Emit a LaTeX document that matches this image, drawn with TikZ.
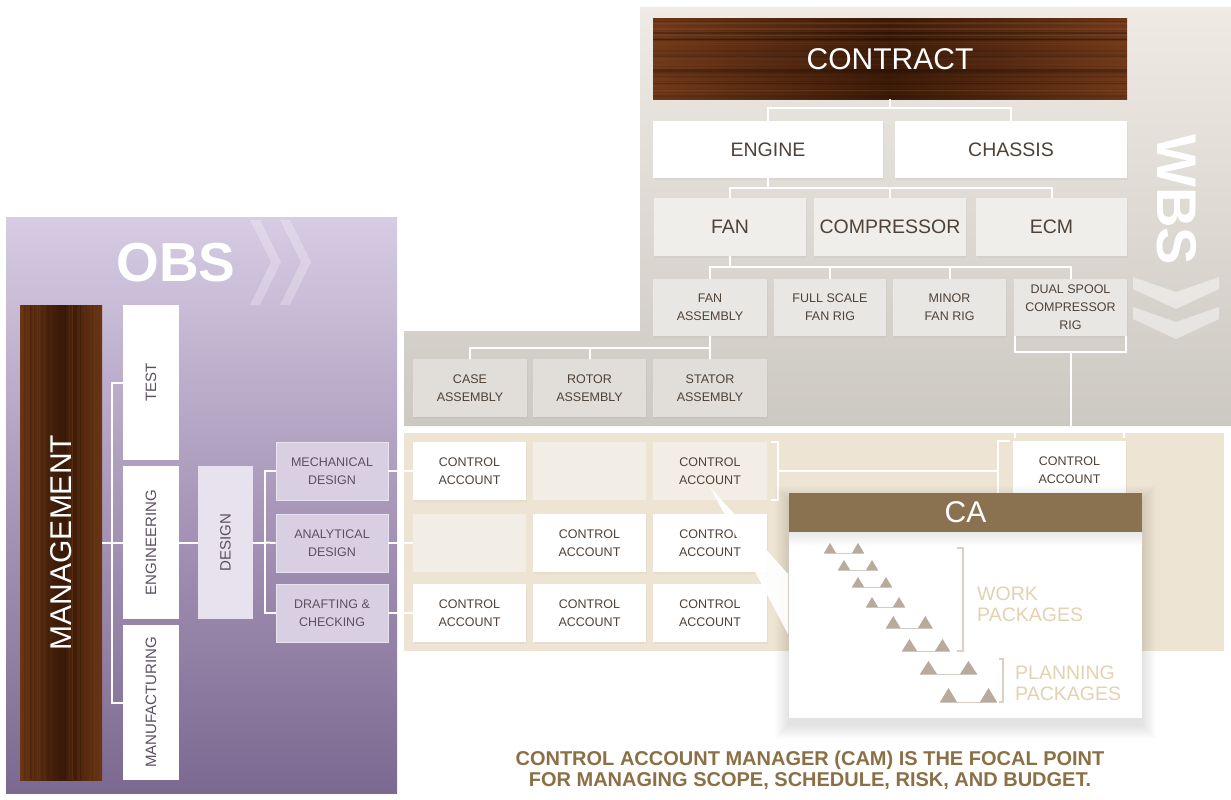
\documentclass[tikz,border=0pt]{standalone}
\usepackage{fontspec}
\usepackage{graphicx}
\setmainfont{Liberation Sans}
\usetikzlibrary{calc,shadows}
\definecolor{txt}{HTML}{4E4238}
\definecolor{obstxt}{HTML}{5C5060}
\definecolor{obstop}{HTML}{D6CCE3}
\definecolor{obsmid}{HTML}{A897B9}
\definecolor{obsbot}{HTML}{7C6991}
\definecolor{wbstop}{HTML}{EFEBE4}
\definecolor{wbsbot}{HTML}{CCC8C2}
\definecolor{caarea}{HTML}{EDE4D4}
\definecolor{cellpale}{HTML}{F3EEE5}
\definecolor{fanrow}{HTML}{F0EEEB}
\definecolor{subrow}{HTML}{E9E7E3}
\definecolor{asmrow}{HTML}{E1DDD8}
\definecolor{orgbox}{HTML}{D8D0E2}
\definecolor{designbox}{HTML}{E7E2ED}
\definecolor{cahead}{HTML}{8A7250}
\definecolor{tri}{HTML}{B8AB9C}
\definecolor{brk}{HTML}{DAD1C6}
\definecolor{baseln}{HTML}{D3CBC2}
\definecolor{pkg}{HTML}{E3D2B2}
\definecolor{camtxt}{HTML}{8B7045}
\definecolor{woodmid}{HTML}{70391A}
\definecolor{wooddark}{HTML}{3C1B09}
\definecolor{woodlight}{HTML}{9A5828}
\definecolor{woodmidv}{HTML}{6A3615}
\definecolor{wooddarkv}{HTML}{3A1A08}
\newcommand\ganttrow[5]{%
  \draw[baseln, line width=1pt] (#1,#3) -- (#2+#4,#3);
  \fill[tri] (#1,#3) -- (#1+#4/2,#3-#5) -- (#1+#4,#3) -- cycle;
  \fill[tri] (#2,#3) -- (#2+#4/2,#3-#5) -- (#2+#4,#3) -- cycle;
}
\begin{document}
\begin{tikzpicture}[x=1pt,y=-1pt,
  conn/.style={draw=white, line width=2pt},
  lbl/.style={rectangle, inner sep=0pt, align=center, text=txt},
  sz/.style 2 args={minimum width=#1pt, minimum height=#2pt},
  small/.style={font=\fontsize{12.5}{18}\selectfont},
  mid/.style={font=\fontsize{19.5}{22}\selectfont},
  obsl/.style={font=\fontsize{15}{18}\selectfont, text=obstxt},
  shad/.style={drop shadow={opacity=0.07, shadow xshift=1pt, shadow yshift=-1.5pt}},
  chev/.style={fill=white, opacity=0.45},
  woodh/.style={path picture={
    \shade[left color=woodmid, right color=woodmid, middle color=wooddark]
      (path picture bounding box.south west) rectangle (path picture bounding box.north east);
    \pgfmathsetseed{7}
    \foreach \i in {1,...,30}{
      \pgfmathsetmacro\t{rnd}
      \pgfmathsetmacro\w{0.4+1.8*rnd}
      \pgfmathsetmacro\o{0.04+0.14*rnd}
      \draw[line width=\w pt, draw=black, opacity=\o]
        ($(path picture bounding box.north west)!\t!(path picture bounding box.south west)$) --
        ($(path picture bounding box.north east)!\t!(path picture bounding box.south east)$);
    }
    \foreach \i in {1,...,20}{
      \pgfmathsetmacro\t{rnd}
      \pgfmathsetmacro\w{0.4+1.4*rnd}
      \pgfmathsetmacro\o{0.05+0.15*rnd}
      \draw[line width=\w pt, draw=woodlight, opacity=\o]
        ($(path picture bounding box.north west)!\t!(path picture bounding box.south west)$) --
        ($(path picture bounding box.north east)!\t!(path picture bounding box.south east)$);
    }
  }},
  woodv/.style={path picture={
    \shade[left color=woodmidv, right color=woodmidv, middle color=wooddarkv]
      (path picture bounding box.south west) rectangle (path picture bounding box.north east);
    \pgfmathsetseed{11}
    \foreach \i in {1,...,18}{
      \pgfmathsetmacro\t{rnd}
      \pgfmathsetmacro\w{0.4+1.6*rnd}
      \pgfmathsetmacro\o{0.04+0.14*rnd}
      \draw[line width=\w pt, draw=black, opacity=\o]
        ($(path picture bounding box.north west)!\t!(path picture bounding box.north east)$) --
        ($(path picture bounding box.south west)!\t!(path picture bounding box.south east)$);
    }
    \foreach \i in {1,...,14}{
      \pgfmathsetmacro\t{rnd}
      \pgfmathsetmacro\w{0.4+1.2*rnd}
      \pgfmathsetmacro\o{0.05+0.15*rnd}
      \draw[line width=\w pt, draw=woodlight, opacity=\o]
        ($(path picture bounding box.north west)!\t!(path picture bounding box.north east)$) --
        ($(path picture bounding box.south west)!\t!(path picture bounding box.south east)$);
    }
  }}
]
\useasboundingbox (0,0) rectangle (1231,800);
\fill[white] (0,0) rectangle (1231,800);

% ---------- panels ----------
\shade[top color=obstop, bottom color=obsbot, middle color=obsmid] (6,217) rectangle (397,793);
\shade[top color=wbstop, bottom color=wbsbot]
  (640,7) -- (1231,7) -- (1231,426) -- (404,426) -- (404,331) -- (640,331) -- cycle;
\fill[caarea] (404,433) rectangle (1224,651);

% ---------- titles ----------
\node[font=\fontsize{55}{60}\selectfont\bfseries, text=white, inner sep=0pt] (obs) at (176,263) {OBS};
\fill[white, opacity=0.25] (250,220) -- (260,220) -- (281,262) -- (260,305) -- (250,305) -- (271,262) -- cycle;
\fill[white, opacity=0.25] (280,220) -- (290,220) -- (311,262) -- (290,305) -- (280,305) -- (301,262) -- cycle;

\node[font=\fontsize{56}{60}\selectfont\bfseries, text=white, rotate=-90, inner sep=0pt] (wbs) at (1177,200) {WBS};
\fill[chev] (1133,277) -- (1176,292) -- (1219,277) -- (1219,289) -- (1176,309) -- (1133,289) -- cycle;
\fill[chev] (1133,307) -- (1176,322) -- (1219,307) -- (1219,319) -- (1176,339) -- (1133,319) -- cycle;

% ---------- WBS nodes ----------
\node[lbl, woodh, sz={474}{80}, font=\fontsize{30}{36}\selectfont, text=white] (contract) at (890,59) {CONTRACT};
\node[lbl, shad, fill=white, sz={230}{57}, mid] (engine) at (768,149.5) {ENGINE};
\node[lbl, shad, fill=white, sz={232}{57}, mid] (chassis) at (1011,149.5) {CHASSIS};
\node[lbl, shad, fill=fanrow, sz={152}{58}, mid] (fan) at (730,227) {FAN};
\node[lbl, shad, fill=fanrow, sz={152}{58}, mid] (compressor) at (890,227) {COMPRESSOR};
\node[lbl, shad, fill=fanrow, sz={151}{58}, mid] (ecm) at (1051.5,227) {ECM};
\node[lbl, shad, fill=subrow, sz={114}{57}, small] (fanasm) at (710,307.5) {FAN\\ASSEMBLY};
\node[lbl, shad, fill=subrow, sz={112}{57}, small] (fullscale) at (830,307.5) {FULL SCALE\\FAN RIG};
\node[lbl, shad, fill=subrow, sz={113}{57}, small] (minor) at (949.5,307.5) {MINOR\\FAN RIG};
\node[lbl, shad, fill=subrow, sz={113}{57}, small] (dual) at (1070.5,307.5) {DUAL SPOOL\\COMPRESSOR\\RIG};
\node[lbl, shad, fill=asmrow, sz={114}{58}, small] (case) at (470,388) {CASE\\ASSEMBLY};
\node[lbl, shad, fill=asmrow, sz={113}{58}, small] (rotor) at (589.5,388) {ROTOR\\ASSEMBLY};
\node[lbl, shad, fill=asmrow, sz={114}{58}, small] (stator) at (710,388) {STATOR\\ASSEMBLY};

% ---------- control account grid ----------
\node[lbl, shad, fill=white, sz={113}{58}, small] (ca11) at (469.5,471) {CONTROL\\ACCOUNT};
\node[lbl, fill=cellpale, sz={113}{58}, small] (ca12) at (589.5,471) {};
\node[lbl, fill=cellpale, sz={114}{58}, small] (ca13) at (710,471) {CONTROL\\ACCOUNT};
\node[lbl, fill=cellpale, sz={113}{58}, small] (ca21) at (469.5,543) {};
\node[lbl, shad, fill=white, sz={113}{58}, small] (ca22) at (589.5,543) {CONTROL\\ACCOUNT};
\node[lbl, shad, fill=white, sz={114}{58}, small] (ca23) at (710,543) {CONTROL\\ACCOUNT};
\node[lbl, shad, fill=white, sz={113}{58}, small] (ca31) at (469.5,613) {CONTROL\\ACCOUNT};
\node[lbl, shad, fill=white, sz={113}{58}, small] (ca32) at (589.5,613) {CONTROL\\ACCOUNT};
\node[lbl, shad, fill=white, sz={114}{58}, small] (ca33) at (710,613) {CONTROL\\ACCOUNT};
\node[lbl, shad, fill=white, sz={113}{58}, small] (ca14) at (1069.5,470) {CONTROL\\ACCOUNT};

% ---------- OBS nodes ----------
\node[lbl, woodv, sz={82}{475}, font=\fontsize{30}{36}\selectfont, text=white] (mgmt) at (61,542.5) {\rotatebox{90}{MANAGEMENT}};
\node[lbl, fill=white, sz={56}{155}, obsl] (test) at (151,382.5) {\rotatebox{90}{TEST}};
\node[lbl, fill=white, sz={56}{153}, obsl] (eng) at (151,542.5) {\rotatebox{90}{ENGINEERING}};
\node[lbl, fill=white, sz={56}{155}, obsl] (manu) at (151,702.5) {\rotatebox{90}{MANUFACTURING}};
\node[lbl, fill=designbox, sz={55}{153}, obsl] (design) at (225.5,542.5) {\rotatebox{90}{DESIGN}};
\node[lbl, fill=orgbox, draw=white!40!orgbox, line width=0.8pt, sz={112}{58}, small, text=obstxt] (mech) at (332,471) {MECHANICAL\\DESIGN};
\node[lbl, fill=orgbox, draw=white!40!orgbox, line width=0.8pt, sz={112}{58}, small, text=obstxt] (anal) at (332,543) {ANALYTICAL\\DESIGN};
\node[lbl, fill=orgbox, draw=white!40!orgbox, line width=0.8pt, sz={112}{58}, small, text=obstxt] (draft) at (332,613) {DRAFTING \&\\CHECKING};

% ---------- WBS connectors ----------
\coordinate (j1) at (890,108);
\draw[conn] (contract.south) -- (j1);
\draw[conn] (engine.north) |- (j1) -| (chassis.north);
\coordinate (j2) at (768,188);
\draw[conn] (engine.south) -- (j2);
\draw[conn] (fan.north) |- (j2) -| (ecm.north);
\draw[conn] (compressor.north) -- (compressor.north |- j2);
\coordinate (j3) at (730,267);
\draw[conn] (fan.south) -- (j3);
\draw[conn] (fanasm.north) |- (j3) -| (dual.north);
\draw[conn] (fullscale.north) -- (fullscale.north |- j3);
\draw[conn] (minor.north) -- (minor.north |- j3);
\coordinate (j4) at (710,348);
\draw[conn] (fanasm.south) -- (j4);
\draw[conn] (case.north) |- (j4) -- (stator.north);
\draw[conn] (rotor.north) -- (rotor.north |- j4);
\coordinate (j5) at (1070.5,352);
\coordinate (j6) at (1070.5,431);
\draw[conn] ([xshift=1.5pt]dual.south west) |- (j5) -| ([xshift=-1.5pt]dual.south east);
\draw[conn] (j5) -- (j6);
\draw[conn] ([shift={(2,-3)}]ca14.north west) |- (j6) -| ([shift={(-2,-3)}]ca14.north east);
% row 1 bracket
\coordinate (j7) at (998,471);
\draw[conn] ([xshift=4pt]ca13.north east) -| ([xshift=11pt]ca13.east) |- ([xshift=4pt]ca13.south east);
\draw[conn] ([xshift=11pt]ca13.east) -- (j7);
\draw[conn] ([xshift=-3pt]ca14.north west) -| ([xshift=-15pt]ca14.south west) -- ([xshift=-3pt]ca14.south west);

% ---------- OBS connectors ----------
\coordinate (k1) at (112,542.5);
\draw[conn] (mgmt.east) -- (k1);
\draw[conn] (test.west) -| (k1) |- (manu.west);
\draw[conn] (k1) -- (eng.west);
\draw[conn] (eng.east) -- (design.west);
\coordinate (k2) at (265,542.5);
\draw[conn] (design.east) -- (k2);
\draw[conn] (mech.west) -| (k2) |- (draft.west);
\draw[conn] (k2) -- (anal.west);
\draw[conn] (mech.east) -- (ca11.west);
\draw[conn] (anal.east) -- (ca21.west);
\draw[conn] (draft.east) -- (ca31.west);

% ---------- CA panel ----------
\foreach \i in {1,...,14}
  \fill[black, opacity=0.007] (789-\i,500-\i) rectangle (1142+\i,725+\i);
\fill[white, opacity=0.93] (710,487) -- (788,574) -- (788,634) -- cycle;
\node[fill=white, sz={353}{186}, inner sep=0pt] (cabody) at (965.5,625) {};
\shade[top color=black!9, bottom color=white] (789,532) rectangle (1142,546);
\node[fill=cahead, sz={353}{39}, inner sep=0pt, font=\fontsize{30}{36}\selectfont, text=white] (cahdr) at (965.5,512.5) {CA};

\ganttrow{824}{852}{553}{12}{10}
\ganttrow{838}{866}{570}{12}{10}
\ganttrow{852}{880}{587}{12}{10}
\ganttrow{866}{893}{607}{12}{10}
\ganttrow{886}{918}{628}{14.5}{12}
\ganttrow{902}{935}{651}{15}{12}
\ganttrow{920}{960}{674}{17}{13}
\ganttrow{940}{980}{702}{17}{14}
\draw[brk, line width=1.5pt] (957,548) -- (963,548) -- (963,651) -- (957,651);
\draw[brk, line width=1.5pt] (999,659) -- (1003,659) -- (1003,702) -- (999,702);
\node[anchor=west, align=left, inner sep=0pt, text=pkg, font=\fontsize{19.5}{21}\selectfont] (wp) at (977,604.5) {WORK\\PACKAGES};
\node[anchor=west, align=left, inner sep=0pt, text=pkg, font=\fontsize{19.5}{21}\selectfont] (pp) at (1015,683.5) {PLANNING\\PACKAGES};

% ---------- caption ----------
\node[align=center, inner sep=0pt, text=camtxt, font=\fontsize{20}{21}\selectfont\bfseries] (cap) at (810,770) {CONTROL ACCOUNT MANAGER (CAM) IS THE FOCAL POINT\\FOR MANAGING SCOPE, SCHEDULE, RISK, AND BUDGET.};
\end{tikzpicture}
\end{document}
